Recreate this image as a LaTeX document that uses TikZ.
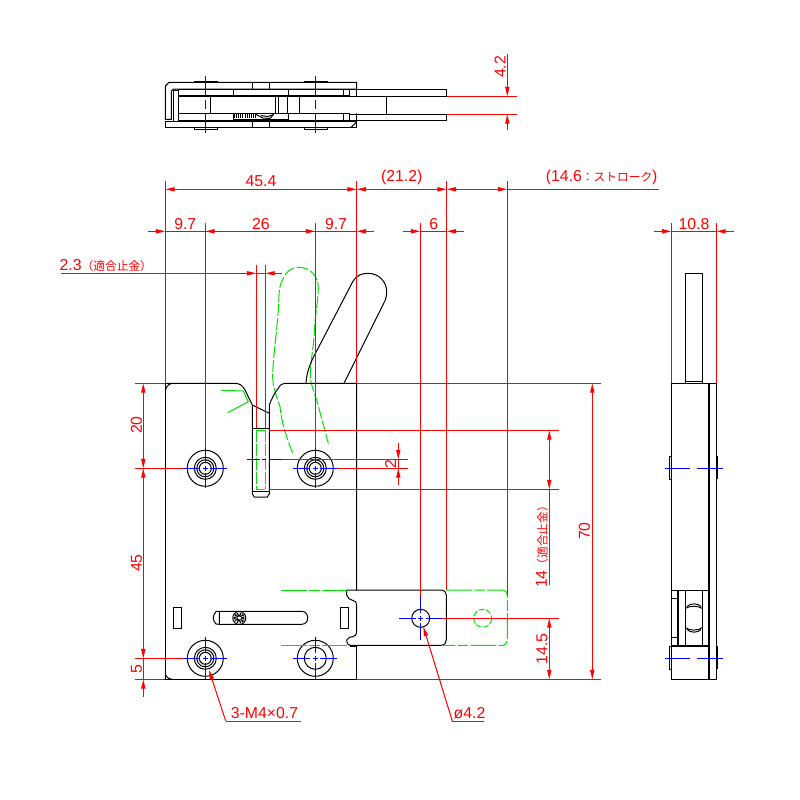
\documentclass[tikz,border=0pt]{standalone}
\usepackage{fontspec}
\setmainfont{Liberation Sans}
\newfontfamily\jpfont{Noto Sans CJK JP}
\usetikzlibrary{arrows.meta}
\definecolor{dimred}{RGB}{255,0,0}
\definecolor{axisblue}{RGB}{0,0,255}
\definecolor{phantomgreen}{RGB}{0,225,0}
\newcommand{\jp}[1]{{\jpfont\fontsize{10}{10}\selectfont #1}}
\newcommand{\axisH}[3]{\draw[centerline] (#1-#3,#2) -- (#1-5,#2) (#1-2.5,#2) -- (#1+2.5,#2) (#1+5,#2) -- (#1+#3,#2);}
\newcommand{\axisV}[3]{\draw[centerline] (#1,#2-#3) -- (#1,#2-5) (#1,#2-2.5) -- (#1,#2+2.5) (#1,#2+5) -- (#1,#2+#3);}

\begin{document}
\begin{tikzpicture}[x=0.03cm, y=-0.03cm,
	line width=0.85pt,
	part/.style={draw=black},
	heavy/.style={draw=black, line width=1.8pt},
	dimline/.style={draw=dimred},
	dimtip/.style={draw=dimred, -{Triangle[length=8pt,width=3.6pt]}},
	centerline/.style={draw=axisblue, line width=1pt},
	phantom/.style={draw=phantomgreen, dash pattern=on 10pt off 2pt},
	dimtext/.style={text=dimred, inner sep=0pt, font=\fontsize{13.5}{14}\selectfont}]
	\useasboundingbox (0,0) rectangle (800,800);

	% Top view, plates
	\draw[part] (165.3,119.3) -- (165.3,86) -- (169,82.3) -- (356.7,82.3) -- (356.7,89) -- (173.3,89) -- (171.3,91) -- (171.3,119.3) -- cycle;
	\draw[part] (165.3,121.3) rectangle (356.7,127.3);
	\draw[part] (356.7,113.3) -- (356.7,127.3);
	\draw[part] (351,127.3) -- (356.7,122);
	\draw[part] (252.3,82.3) -- (252.3,89) (269.3,82.3) -- (269.3,89);
	\draw[part] (252.3,121.3) -- (252.3,127.3) (269.3,121.3) -- (269.3,127.3);
	\draw[heavy] (194.3,81.6) -- (217.7,81.6) (304.3,81.6) -- (327.7,81.6);
	\draw[part] (194.3,127.3) rectangle (217.7,129.3);
	\draw[part] (304.3,127.3) rectangle (327.7,129.3);

	% Top view, inner layers
	\draw[part] (173.3,90) rectangle (178.3,121.3);
	\draw[part] (178.3,89.3) -- (356.7,89.3) (178.3,89.3) -- (178.3,121.3);
	\draw[part] (233.3,89.3) -- (233.3,95.7) (288.3,89.3) -- (288.3,95.7) (343.3,89.3) -- (343.3,95.7) (349.3,89.3) -- (349.3,95.7);
	\draw[part] (356.7,89.3) rectangle (446.7,96.3);
	\draw[part] (356.7,114.3) rectangle (446.7,120.3);
	\draw[heavy, line width=1.4pt] (178.3,95.7) -- (349.3,95.7) (178.3,113.5) -- (349.3,113.5);
	\draw[part] (349.3,96.3) -- (386.7,96.3) -- (386.7,114.3) -- (349.3,114.3);
	\draw[part] (210.3,96.3) -- (210.3,113.3) (275.3,96.3) -- (275.3,113.3) (278.3,96.3) -- (278.3,113.3) (287.3,96.3) -- (287.3,113.3) (299.3,96.3) -- (299.3,113.3);
	\draw[part] (233.3,113.3) -- (233.3,120.3) (288.3,113.3) -- (288.3,120.3) (343.3,113.3) -- (343.3,120.3) (349.3,113.3) -- (349.3,120.3);
	\draw[part] (178.3,120.3) -- (356.7,120.3);
	\draw[heavy, line width=1.2pt] (233.3,119.8) -- (288.3,119.8);
	\draw[draw=black, line width=3.4pt, dash pattern=on 0.9pt off 0.9pt] (234,116.2) -- (256,116.2);
	\draw[draw=black, dash pattern=on 1pt off 1pt] (240,95) -- (253,95);
	\draw[part] (256,114.5) -- (263,118) -- (270,118.5) -- (273,115);
	\draw[part] (261,115.5) -- (268,116.5) -- (274,114.5);

	% Top view, centre lines
	\draw[centerline] (205.3,76) -- (205.3,96) (205.3,100) -- (205.3,109) (205.3,113) -- (205.3,133.3);
	\draw[centerline] (315.3,76) -- (315.3,96) (315.3,100) -- (315.3,109) (315.3,113) -- (315.3,133.3);

	% Top view, dimension
	\draw[dimline] (446.7,96.3) -- (516.7,96.3);
	\draw[dimline] (446.7,114.3) -- (516.7,114.3);
	\draw[dimtip] (507.3,54.3) -- (507.3,96.3);
	\draw[dimtip] (507.3,130.3) -- (507.3,114.3);
	\node[dimtext, rotate=90] (dimstroke) at (500,67) {4.2};

	% Green phantom handle and cam
	\draw[phantom] (292.7,453.3) .. controls (286,436) and (281,420) .. (280,406.7) .. controls (275,392) and (272.7,385) .. (272.7,376.7) .. controls (272.7,360) and (277,330) .. (278.3,310) .. controls (279,295) and (279,286) .. (282,281) .. controls (286,271) and (292,267.3) .. (298.3,267.3) .. controls (310,267.3) and (318.3,276) .. (318.3,288) .. controls (318.3,300) and (315,315) .. (314.5,330) .. controls (314,345) and (310.3,362) .. (310.3,376.7) .. controls (311,385) and (314,392) .. (316.7,400) -- (328.3,443.3);
	\draw[draw=phantomgreen] (221,390.3) -- (243.3,391) -- (248.3,401.7) -- (227.7,412.7);
	\draw[draw=phantomgreen] (256.3,430) -- (265.3,430) (256.3,489.3) -- (265.3,489.3);
	\draw[phantom] (256.3,430) -- (256.3,489.3);
	\draw[phantom] (265.3,430) -- (265.3,489.3);

	% Front view, plate outline
	\draw[part] (165.3,383.3) -- (165.3,679.3) -- (356.7,679.3) -- (356.7,645.3);
	\draw[part] (165.3,391) .. controls (166,387) and (168,384.5) .. (171.7,383.3);
	\draw[part] (165.3,673.3) .. controls (166,677) and (168,678.5) .. (171.7,679.3);
	\draw[part] (165.3,383.3) -- (235.3,383.3) .. controls (240,383.5) and (243,386) .. (245,390) -- (252.3,405) -- (269.3,413.3);
	\draw[part] (269.3,413.3) -- (269.3,405) .. controls (271,400) and (275,392) .. (278.3,388.3) .. controls (280,385) and (282,383.3) .. (285,383.3) -- (356.7,383.3) -- (356.7,590);

	% Front view, slot in the plate
	\draw[part] (252.3,405) -- (252.3,494) -- (254.3,497) -- (267.3,497) -- (269.3,494) -- (269.3,413.3);
	\draw[part] (252.3,428.3) -- (269.3,428.3);
	\draw[part] (252.3,491.3) -- (269.3,491.3);

	% Handle
	\draw[part] (306,383.3) .. controls (306.5,373) and (310,364) .. (313.7,356.7) -- (352.7,281.7) .. controls (357,275) and (362,273.3) .. (368,273.3) .. controls (379,273.3) and (386.7,282) .. (386.7,291.7) .. controls (386.7,295) and (386,297.7) .. (385.3,300) -- (344,383.3);

	% Fasteners
	\draw[part] (205.3,468.3) circle (18) circle (11) circle (8.5) circle (6);
	\draw[part] (315.3,468.3) circle (18) circle (11) circle (8.5) circle (6);
	\draw[part] (205.3,658.3) circle (18) circle (11) circle (8.5) circle (6);
	\draw[part] (315.3,658.3) circle (18) circle (11);

	% Lower slot, windows and pin
	\draw[part] (219.3,611.3) -- (301.7,611.3) .. controls (306,611.3) and (307.7,615) .. (307.7,617.8) .. controls (307.7,621) and (306,624.3) .. (301.7,624.3) -- (219.3,624.3) -- cycle;
	\draw[part] (216,611.5) .. controls (214,614) and (213.3,616) .. (213.3,617.8) .. controls (213.3,620) and (214,622) .. (216,624) -- (219.3,624.3);
	\draw[part] (216,611.5) -- (219.3,611.3);
	\draw[part] (239.3,618) circle (6.5);
	\draw[draw=black, line width=3.2pt, dash pattern=on 1pt off 0.8pt] (239.3,618) circle (3.6);
	\draw[part] (173.3,607.3) rectangle (181.7,628.3);
	\draw[heavy, line width=1.2pt] (173.3,628.3) -- (173.3,607.3) -- (181.7,607.3);
	\draw[part] (340.3,607.3) rectangle (348.7,628.3);

	% Slider
	\draw[part] (346.7,590) -- (441.7,590) .. controls (444,590) and (446.3,592) .. (446.3,595) -- (446.3,640) .. controls (446.3,643) and (444,645.3) .. (441.7,645.3) -- (350,645.3) .. controls (347.5,645) and (346.7,643) .. (346.7,640) .. controls (348,637) and (351,636.7) .. (353,636.7) .. controls (355.5,636.5) and (356.7,634) .. (356.7,631.7) -- (356.7,605) .. controls (356.7,602) and (355,600.7) .. (353,600.5) .. controls (350,600) and (347.3,598) .. (346.7,595) -- cycle;
	\draw[part] (420.7,618.3) circle (9);
	\draw[heavy, line width=1.2pt] (350,645.8) -- (356.7,645.8);

	% Slider, phantom position
	\draw[phantom, dash pattern=on 22pt off 2pt on 9pt off 2pt] (281,590) -- (346.7,590);
	\draw[phantom, dash pattern=on 22pt off 2pt on 9pt off 2pt] (281,645.3) -- (347,645.3);
	\draw[phantom, dash pattern=on 22pt off 2pt on 9pt off 2pt] (446.3,590) -- (503.3,590) .. controls (505.5,590) and (507.3,592.5) .. (507.3,595) -- (507.3,640) .. controls (507.3,643) and (505.5,645.3) .. (503.3,645.3) -- (441.7,645.3);
	\draw[phantom, dash pattern=on 5pt off 1.5pt] (482.7,618.3) circle (9);

	% Side view
	\draw[part] (685.3,273.3) rectangle (702.3,383.3);
	\draw[part] (685.3,381.3) -- (702.3,381.3);
	\draw[part] (671.3,383.3) rectangle (716.3,679.3);
	\draw[heavy] (709,383.3) -- (709,679.3);
	\draw[part] (671.3,590) -- (709,590);
	\draw[heavy] (671.3,646) -- (709,646);
	\draw[heavy] (678,590) -- (678,646);
	\draw[part] (685,590) -- (685,646);
	\draw[part] (702.3,590) -- (702.3,646);
	\draw[part] (671.3,598.3) -- (677.3,598.3) (671.3,637.3) -- (677.3,637.3);
	\draw[part] (685,608.5) .. controls (690,605.5) and (698,605.5) .. (702.3,608.5);
	\draw[part] (687,606.5) .. controls (690,603) and (698,603) .. (701,606.5);
	\draw[part] (685,627.5) .. controls (690,631) and (698,631) .. (702.3,627.5);
	\draw[part] (687,629.5) .. controls (690,633) and (698,633) .. (701,629.5);
	\draw[part] (669.3,456) rectangle (671.3,479.3);
	\draw[part] (669.3,646) rectangle (671.3,669.3);
	\draw[heavy, line width=1.2pt] (717.5,456) -- (717.5,479.3);
	\draw[heavy, line width=1.2pt] (717.5,646) -- (717.5,669.3);
	\draw[centerline] (665,468.3) -- (690,468.3) (697.3,468.3) -- (722.7,468.3);
	\draw[centerline] (665,658.3) -- (690,658.3) (697.3,658.3) -- (722.7,658.3);

	% Extension lines
	\draw[dimline] (165.3,181) -- (165.3,383.3);
	\draw[dimline] (356.7,181) -- (356.7,383.3);
	\draw[dimline] (446.7,181) -- (446.7,590);
	\draw[dimline] (507.3,181) -- (507.3,595);
	\draw[dimline] (205.3,223) -- (205.3,450);
	\draw[dimline] (315.3,223) -- (315.3,450);
	\draw[dimline] (420.3,223) -- (420.3,596.7);
	\draw[dimline] (256.3,265) -- (256.3,428.3);
	\draw[dimline] (265.3,265) -- (265.3,428.3);
	\draw[dimline] (671.3,223.3) -- (671.3,383.3);
	\draw[dimline] (716.3,223.3) -- (716.3,383.3);
	\draw[dimline] (135,383.3) -- (165.3,383.3);
	\draw[dimline] (356.7,383.3) -- (601,383.3);
	\draw[dimline] (135,468.3) -- (183.3,468.3);
	\draw[dimline] (135,658.3) -- (184,658.3);
	\draw[dimline] (135,679.3) -- (165.3,679.3);
	\draw[dimline] (356.7,679.3) -- (601,679.3);
	\draw[dimline] (269.3,430.3) -- (559,430.3);
	\draw[dimline] (269.3,489.3) -- (559,489.3);
	\draw[dimline] (281.7,459.3) -- (407.7,459.3);
	\draw[dimline] (337.3,468.3) -- (407.7,468.3);
	\draw[dimline] (441.7,618.3) -- (559,618.3);

	% Dimensions above the plate
	\draw[dimtip] (174.3,189.3) -- (165.3,189.3);
	\draw[dimtip] (347.7,189.3) -- (356.7,189.3);
	\draw[dimline] (174.3,189.3) -- (347.7,189.3);
	\draw[dimtip] (365.7,189.3) -- (356.7,189.3);
	\draw[dimtip] (437.7,189.3) -- (446.7,189.3);
	\draw[dimline] (365.7,189.3) -- (437.7,189.3);
	\draw[dimtip] (455.7,189.3) -- (446.7,189.3);
	\draw[dimtip] (498.3,189.3) -- (507.3,189.3);
	\draw[dimline] (455.7,189.3) -- (498.3,189.3);
	\draw[dimline] (507.3,189.3) -- (658.7,189.3);
	\draw[dimtip] (148,231.3) -- (165.3,231.3);
	\draw[dimline] (165.3,231.3) -- (356.7,231.3);
	\draw[dimtip] (225,231.3) -- (205.3,231.3);
	\draw[dimtip] (295,231.3) -- (315.3,231.3);
	\draw[dimtip] (373.7,231.3) -- (356.7,231.3);
	\draw[dimtip] (403,231.3) -- (420.3,231.3);
	\draw[dimline] (420.3,231.3) -- (446.7,231.3);
	\draw[dimtip] (463.7,231.3) -- (446.7,231.3);
	\draw[dimtip] (654,231.3) -- (671.3,231.3);
	\draw[dimline] (671.3,231.3) -- (716.3,231.3);
	\draw[dimtip] (734,231.3) -- (716.3,231.3);
	\draw[dimtip] (61,273.3) -- (256.3,273.3);
	\draw[dimline] (256.3,273.3) -- (265.3,273.3);
	\draw[dimtip] (282.3,273.3) -- (265.3,273.3);

	% Dimensions left of the plate
	\draw[dimtip] (143.3,392.3) -- (143.3,383.3);
	\draw[dimtip] (143.3,459.3) -- (143.3,468.3);
	\draw[dimline] (143.3,392.3) -- (143.3,459.3);
	\draw[dimtip] (143.3,477.3) -- (143.3,468.3);
	\draw[dimtip] (143.3,649.3) -- (143.3,658.3);
	\draw[dimline] (143.3,477.3) -- (143.3,649.3);
	\draw[dimline] (143.3,658.3) -- (143.3,679.3);
	\draw[dimtip] (143.3,696.7) -- (143.3,679.3);

	% Dimensions right of the plate
	\draw[dimtip] (592.3,392.3) -- (592.3,383.3);
	\draw[dimtip] (592.3,670.3) -- (592.3,679.3);
	\draw[dimline] (592.3,392.3) -- (592.3,670.3);
	\draw[dimtip] (549.3,439.3) -- (549.3,430.3);
	\draw[dimtip] (549.3,480.3) -- (549.3,489.3);
	\draw[dimline] (549.3,439.3) -- (549.3,480.3);
	\draw[dimline] (549.3,489.3) -- (549.3,585);
	\draw[dimtip] (549.3,627.3) -- (549.3,618.3);
	\draw[dimtip] (549.3,670.3) -- (549.3,679.3);
	\draw[dimline] (549.3,627.3) -- (549.3,670.3);
	\draw[dimtip] (398.3,443.3) -- (398.3,459.3);
	\draw[dimtip] (398.3,485) -- (398.3,468.3);
	\draw[dimline] (398.3,459.3) -- (398.3,468.3);

	% Leaders
	\draw[dimtip] (225.7,721) -- (209,670);
	\draw[dimline] (225.7,721) -- (301,721);
	\draw[dimtip] (452.3,721) -- (423.3,626.7);
	\draw[dimline] (452.3,721) -- (484,721);

	% Centre lines of the holes
	\axisH{205.3}{468.3}{22}
	\axisV{205.3}{468.3}{20}
	\axisH{315.3}{468.3}{22}
	\axisV{315.3}{468.3}{20}
	\axisH{205.3}{658.3}{22}
	\axisV{205.3}{658.3}{21}
	\axisH{315.3}{658.3}{22}
	\axisV{315.3}{658.3}{21}
	\axisH{420.7}{618.3}{21.7}
	\axisV{420.7}{618.3}{21.3}
	\draw[centerline] (247,459.3) -- (260,459.3) (262.3,459.3) -- (266,459.3) (269.3,459.3) -- (281.7,459.3);

	% Labels
	\node[dimtext] (widthlabel) at (261,181) {45.4};
	\node[dimtext] (leftpitch) at (185.3,224) {9.7};
	\node[dimtext] (pitch) at (261,224) {26};
	\node[dimtext] (rightpitch) at (336,224) {9.7};
	\node[dimtext] (fitlabel) at (105.8,266) {2.3\jp{（適合止金）}};
	\node[dimtext] (travel) at (401.7,177) {(21.2)};
	\node[dimtext] (strokelabel) at (601.7,177) {(14.6\jp{：ストローク})};
	\node[dimtext] (slotwidth) at (433.7,224) {6};
	\node[dimtext] (depthlabel) at (694,224) {10.8};
	\node[dimtext, rotate=90] (topspan) at (136.5,425) {20};
	\node[dimtext, rotate=90] (midspan) at (136.5,563) {45};
	\node[dimtext, rotate=90] (lowspan) at (136.5,669) {5};
	\node[dimtext, rotate=90] (height) at (584.5,531) {70};
	\node[dimtext, rotate=90] (fitstroke) at (542,544) {14\jp{（適合止金）}};
	\node[dimtext, rotate=90] (holespan) at (542,649) {14.5};
	\node[dimtext, rotate=90] (offset) at (390.5,463.7) {2};
	\node[dimtext] (threadlabel) at (264.5,713) {3-M4×0.7};
	\node[dimtext] (holelabel) at (469.5,713.5) {ø4.2};
\end{tikzpicture}
\end{document}
